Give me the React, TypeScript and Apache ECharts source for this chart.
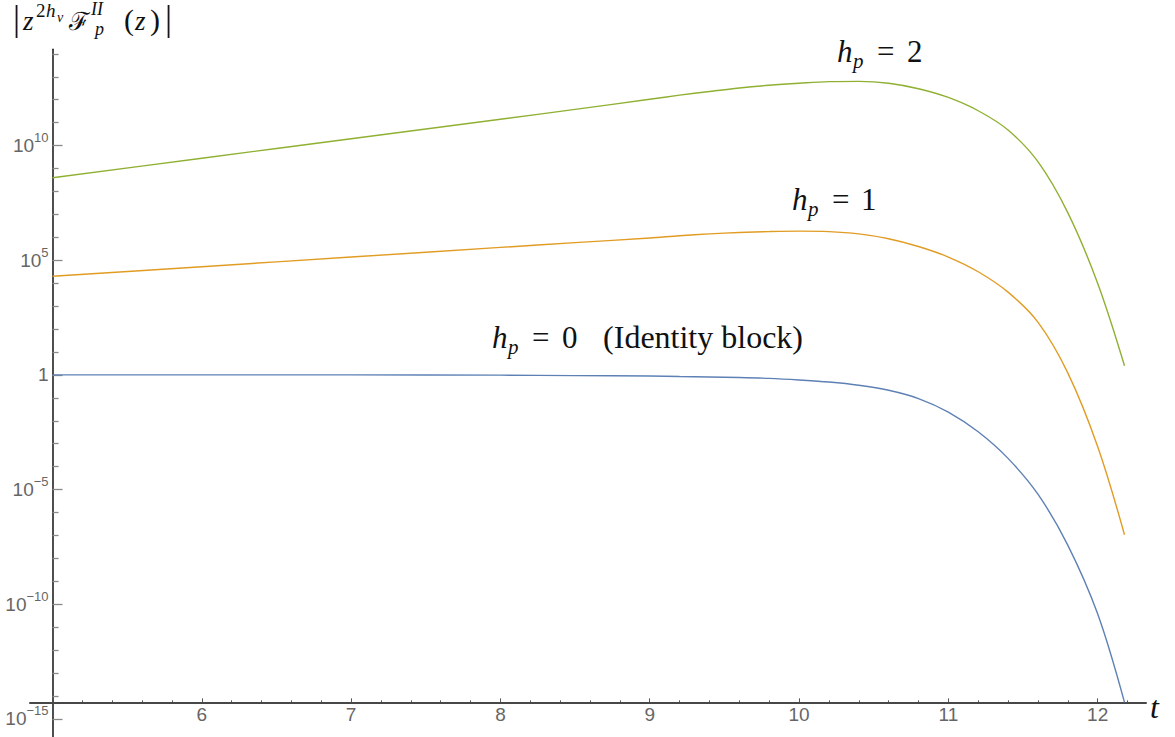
import React, { useEffect, useRef } from "react";
import * as echarts from "echarts";

// t values sampled along the curves
const tValues = [5, 6, 7, 8, 8.5, 9, 9.2, 9.4, 9.6, 9.8, 10, 10.2, 10.4, 10.6, 10.8, 11, 11.2, 11.4, 11.6, 11.8, 12, 12.18];
// log10 |z^{2h_v} F_p^{II}(z)|
const hp0Log10 = [0, 0, 0, -0.01, -0.03, -0.05, -0.07, -0.09, -0.11, -0.15, -0.22, -0.31, -0.45, -0.67, -1.03, -1.62, -2.48, -3.64, -5.2, -7.42, -10.42, -14.28];
const hp1Log10 = [4.3, 4.72, 5.14, 5.56, 5.77, 5.97, 6.07, 6.15, 6.21, 6.25, 6.27, 6.25, 6.15, 5.94, 5.6, 5.14, 4.5, 3.61, 2.3, 0.09, -3.12, -6.97];
const hp2Log10 = [8.6, 9.45, 10.3, 11.15, 11.58, 12.02, 12.2, 12.36, 12.51, 12.63, 12.72, 12.79, 12.8, 12.72, 12.48, 12.1, 11.52, 10.68, 9.3, 7.08, 4.0, 0.4];

const xTickLabels = [6, 7, 8, 9, 10, 11, 12];
const yMajorExponents = [-15, -10, -5, 0, 5, 10];

// axis ranges
const X_MIN = 4.849;
const X_MAX = 12.324;
const Y_MIN = -15.79;
const Y_MAX = 14.2;
const Y_AXIS_AT_T = 5;
const X_AXIS_AT_LOG = -14.28;

// layout
const W = 1175;
const H = 737;
const GRID_LEFT = 30;
const GRID_RIGHT = 29;
const GRID_TOP = 49.3;
const GRID_BOTTOM = 0;

const COLORS = ["#5e81b5", "#e19c24", "#8fb032"];

function xMinorTicks(): number[] {
  const out: number[] = [];
  for (let i = 25; i <= 61; i++) {
    if (i % 5 !== 0) out.push(Math.round(i * 20) / 100);
  }
  return out;
}
function yMinorTicks(): number[] {
  const out: number[] = [];
  for (let i = -15; i <= 14; i++) if (i % 5 !== 0) out.push(i);
  return out;
}

function mt(text: string, x: number, baseline: number, size: number, italic: boolean, family = "'Liberation Serif', 'DejaVu Serif', serif", align = "left") {
  return {
    type: "text",
    x,
    y: baseline - 0.34 * size,
    silent: true,
    style: {
      text,
      fontSize: size,
      fontFamily: family,
      fontStyle: italic ? "italic" : "normal",
      fill: "#111",
      align,
      verticalAlign: "middle",
    },
  };
}

export default function App() {
  const ref = useRef<HTMLDivElement>(null);
  useEffect(() => {
    if (!ref.current) return;
    const chart = echarts.init(ref.current, undefined, { renderer: "svg" });
    const gridW = W - GRID_LEFT - GRID_RIGHT;
    const gridH = H - GRID_TOP - GRID_BOTTOM;
    const pxPerX = gridW / (X_MAX - X_MIN);
    const pxPerY = gridH / (Y_MAX - Y_MIN);
    const yAxisOffset = -(Y_AXIS_AT_T - X_MIN) * pxPerX; // left axis moved right
    const xAxisOffset = -(X_AXIS_AT_LOG - Y_MIN) * pxPerY; // bottom axis moved up
    const xAxisPixY = H - GRID_BOTTOM + xAxisOffset;
    const yAxisPixX = GRID_LEFT - yAxisOffset;

    const mk = (vals: number[]) => tValues.map((t, i) => [t, vals[i]]);
    const series = [hp0Log10, hp1Log10, hp2Log10].map((v, i) => ({
      type: "line",
      name: `h_p = ${i}`,
      data: mk(v),
      xAxisIndex: 0,
      yAxisIndex: 0,
      showSymbol: false,
      smooth: 0.35,
      lineStyle: { color: COLORS[i], width: 1.4 },
      itemStyle: { color: COLORS[i] },
      z: 3,
    }));

    const serif = "'Liberation Serif', 'DejaVu Serif', serif";
    const graphic = [
      // y-axis title |z^{2h_v} F_p^{II}(z)|
      mt("|", 13, 30, 35, false),
      mt("z", 23, 30, 27, true),
      mt("2", 36, 17, 19, false),
      mt("h", 46, 17, 19, true),
      mt("v", 57, 22, 14, true),
      mt("ℱ", 69, 30, 25, false, "'DejaVu Serif', serif"),
      mt("II", 91, 15, 18, true),
      mt("p", 95, 35, 18, true),
      mt("(", 124, 30, 30, false),
      mt("z", 135, 30, 27, true),
      mt(")", 150, 30, 30, false),
      mt("|", 165, 30, 35, false),
      // x-axis name
      mt("t", 1150, 718, 32, true),
      // h_p = 2
      mt("h", 837, 62, 31, true),
      mt("p", 853, 68, 21, true),
      mt("=", 877, 62, 31, false),
      mt("2", 907, 62, 31, false),
      // h_p = 1
      mt("h", 792, 210, 31, true),
      mt("p", 808, 216, 21, true),
      mt("=", 832, 210, 31, false),
      mt("1", 861, 210, 31, false),
      // h_p = 0 (Identity block)
      mt("h", 492, 348, 31, true),
      mt("p", 508, 354, 21, true),
      mt("=", 532, 348, 31, false),
      mt("0", 562, 348, 31, false),
      mt("(Identity block)", 803, 348, 32, false, serif, "right"),
    ];

    const tickLabelStyle = {
      color: "#666",
      fontSize: 19,
      fontFamily: "'Liberation Sans', Arial, sans-serif",
    };

    chart.setOption({
      animation: false,
      backgroundColor: "#fff",
      grid: {
        left: GRID_LEFT,
        right: GRID_RIGHT,
        top: GRID_TOP,
        bottom: GRID_BOTTOM,
        containLabel: false,
        outerBoundsMode: "none",
      },
      xAxis: [
        {
          type: "value",
          position: "bottom",
          min: X_MIN,
          max: X_MAX,
          offset: xAxisOffset,
          splitLine: { show: false },
          axisLine: { onZero: false, lineStyle: { color: "#474747", width: 2 } },
          axisTick: { inside: true, length: 4, customValues: xTickLabels, lineStyle: { color: "#555", width: 1 } },
          axisLabel: { customValues: xTickLabels, margin: 3, ...tickLabelStyle, hideOverlap: false },
        },
        {
          type: "value",
          position: "top",
          min: X_MIN,
          max: X_MAX,
          offset: GRID_TOP - xAxisPixY,
          splitLine: { show: false },
          axisLine: { show: false, onZero: false },
          axisLabel: { show: false },
          axisTick: { inside: false, length: 2, customValues: xMinorTicks(), lineStyle: { color: "#555", width: 1 } },
        },
      ],
      yAxis: [
        {
          type: "value",
          position: "left",
          min: Y_MIN,
          max: Y_MAX,
          offset: yAxisOffset,
          splitLine: { show: false },
          axisLine: { onZero: false, lineStyle: { color: "#222", width: 1.6 } },
          axisTick: { inside: true, length: 10, customValues: yMajorExponents, lineStyle: { color: "#8a8a8a", width: 1.3 } },
          axisLabel: {
            customValues: yMajorExponents,
            margin: 4,
            hideOverlap: false,
            formatter: (v: number) => {
              if (v === 0) return "{b|1}";
              const e = v < 0 ? "\u2212" + Math.abs(v) : String(v);
              return `{b|10}{s|${e}}`;
            },
            rich: {
              b: { ...tickLabelStyle, fontSize: 19 },
              s: { ...tickLabelStyle, fontSize: 13, padding: [0, 0, 16, 0] },
            },
          },
        },
        {
          type: "value",
          position: "right",
          min: Y_MIN,
          max: Y_MAX,
          offset: yAxisPixX - (W - GRID_RIGHT),
          splitLine: { show: false },
          axisLine: { show: false, onZero: false },
          axisLabel: { show: false },
          axisTick: { inside: false, length: 6, customValues: yMinorTicks(), lineStyle: { color: "#8a8a8a", width: 1.3 } },
        },
      ],
      series,
      graphic,
    });
    return () => chart.dispose();
  }, []);
  return (
    <div
      ref={ref}
      style={{ position: "absolute", left: 0, top: 0, width: W, height: H, background: "#fff" }}
    />
  );
}
